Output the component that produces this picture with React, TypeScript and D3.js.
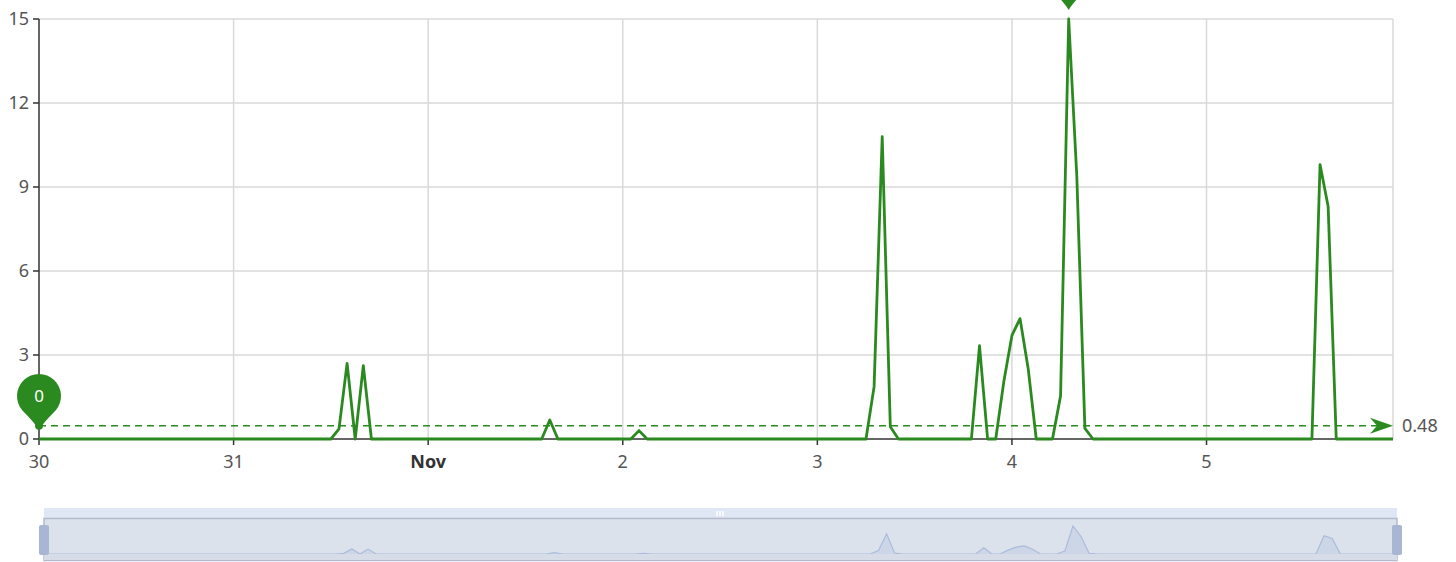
import React, { useEffect, useRef } from 'react';
import * as d3 from 'd3';

// hourly values, one row per day, Oct 30 .. Nov 5
const startDate = Date.UTC(2023, 9, 30, 0);
const day0 = [0, 0, 0, 0, 0, 0, 0, 0, 0, 0, 0, 0, 0, 0, 0, 0, 0, 0, 0, 0, 0, 0, 0, 0];
const day1 = [0, 0, 0, 0, 0, 0, 0, 0, 0, 0, 0, 0, 0, 0.36, 2.7, 0, 2.62, 0, 0, 0, 0, 0, 0, 0];
const day2 = [0, 0, 0, 0, 0, 0, 0, 0, 0, 0, 0, 0, 0, 0, 0, 0.68, 0, 0, 0, 0, 0, 0, 0, 0];
const day3 = [0, 0, 0.3, 0, 0, 0, 0, 0, 0, 0, 0, 0, 0, 0, 0, 0, 0, 0, 0, 0, 0, 0, 0, 0];
const day4 = [0, 0, 0, 0, 0, 0, 0, 1.87, 10.8, 0.44, 0, 0, 0, 0, 0, 0, 0, 0, 0, 0, 3.33, 0, 0, 2.05];
const day5 = [3.7, 4.3, 2.52, 0, 0, 0, 1.54, 15, 9.4, 0.38, 0, 0, 0, 0, 0, 0, 0, 0, 0, 0, 0, 0, 0, 0];
const day6 = [0, 0, 0, 0, 0, 0, 0, 0, 0, 0, 0, 0, 0, 0, 9.8, 8.3, 0, 0, 0, 0, 0, 0, 0, 0];
const yTicks = [0, 3, 6, 9, 12, 15];

const hourly = [...day0, ...day1, ...day2, ...day3, ...day4, ...day5, ...day6];
const data = hourly.map((v, i) => ({ t: new Date(startDate + i * 3600000), v }));

const green = '#2b8a1f';
const font = '"Noto Sans", sans-serif';
const fs = 18;

function pinPath(cx: number, cy: number, r: number) {
    // head circle + tapered tail
    const d = r * 1.55;
    const phi = Math.acos(r / d);
    const tx = r * Math.sin(phi), ty = r * Math.cos(phi);
    return `M${cx - tx},${cy + ty} A${r},${r} 0 1 1 ${cx + tx},${cy + ty} Q${cx + 3},${cy + d - 6} ${cx},${cy + d} Q${cx - 3},${cy + d - 6} ${cx - tx},${cy + ty} Z`;
}

export default function App() {
    const ref = useRef<SVGSVGElement>(null);

    useEffect(() => {
        const svg = d3.select(ref.current);
        svg.selectAll('*').remove();

        const left = 39, right = 1393, top = 19, bottom = 439;
        const x = d3.scaleUtc().domain([data[0].t, data[data.length - 1].t]).range([left, right]);
        const y = d3.scaleLinear().domain([0, 15]).range([bottom, top]);
        const grid = '#d9d9d9';

        // horizontal grid
        svg.append('g').selectAll('line').data(yTicks.filter(t => t > 0)).enter().append('line')
            .attr('x1', left).attr('x2', right)
            .attr('y1', d => y(d)).attr('y2', d => y(d))
            .attr('stroke', grid).attr('stroke-width', 1.5);

        // vertical grid
        const days = d3.utcDay.range(data[0].t, new Date(+data[data.length - 1].t + 1));
        svg.append('g').selectAll('line').data(days.slice(1)).enter().append('line')
            .attr('x1', d => x(d)).attr('x2', d => x(d))
            .attr('y1', top).attr('y2', bottom)
            .attr('stroke', grid).attr('stroke-width', 1.5);
        svg.append('line').attr('x1', right).attr('x2', right).attr('y1', top).attr('y2', bottom)
            .attr('stroke', grid).attr('stroke-width', 1.5);

        // y axis
        svg.append('line').attr('x1', left).attr('x2', left).attr('y1', top).attr('y2', bottom)
            .attr('stroke', '#333').attr('stroke-width', 1.5);
        const yg = svg.append('g').selectAll('g').data(yTicks).enter().append('g');
        yg.append('line').attr('x1', left - 6).attr('x2', left).attr('y1', d => y(d)).attr('y2', d => y(d))
            .attr('stroke', '#333').attr('stroke-width', 1.5);
        yg.append('text').attr('x', left - 10).attr('y', d => y(d) + 6)
            .attr('text-anchor', 'end').attr('font-family', font).attr('font-size', fs).attr('fill', '#555')
            .text(d => d);

        // x axis
        svg.append('line').attr('x1', left).attr('x2', right).attr('y1', bottom).attr('y2', bottom)
            .attr('stroke', '#333').attr('stroke-width', 1.5);
        const xg = svg.append('g').selectAll('g').data(days).enter().append('g');
        xg.append('line').attr('x1', d => x(d)).attr('x2', d => x(d)).attr('y1', bottom).attr('y2', bottom + 6)
            .attr('stroke', '#333').attr('stroke-width', 1.5);
        xg.append('text').attr('x', d => x(d)).attr('y', bottom + 29)
            .attr('text-anchor', 'middle').attr('font-family', font).attr('font-size', fs)
            .attr('fill', d => d.getUTCDate() === 1 ? '#333' : '#555')
            .attr('font-weight', d => d.getUTCDate() === 1 ? 'bold' : 'normal')
            .text(d => d.getUTCDate() === 1 ? d3.utcFormat('%b')(d) : d3.utcFormat('%-d')(d));

        // average mark line
        const avg = d3.mean(hourly) as number;
        const ay = y(avg);
        svg.append('line').attr('x1', left).attr('x2', right - 14).attr('y1', ay).attr('y2', ay)
            .attr('stroke', green).attr('stroke-width', 1.5).attr('stroke-dasharray', '7,5');
        svg.append('path')
            .attr('d', `M${right},${ay} L${right - 23},${ay - 8} L${right - 16},${ay} L${right - 23},${ay + 8} Z`)
            .attr('fill', green);
        svg.append('text').attr('x', right + 9).attr('y', ay + 6)
            .attr('font-family', font).attr('font-size', fs).attr('fill', '#555')
            .text(avg.toFixed(2));

        // series line
        const line = d3.line<{ t: Date; v: number }>().x(d => x(d.t)).y(d => y(d.v));
        svg.append('path').datum(data).attr('d', line)
            .attr('fill', 'none').attr('stroke', green).attr('stroke-width', 2.8).attr('stroke-linejoin', 'round');

        svg.append('circle').attr('cx', left).attr('cy', ay).attr('r', 4).attr('fill', green);

        // min / max pins
        const maxD = data.reduce((a, b) => (b.v > a.v ? b : a));
        const minD = data.reduce((a, b) => (b.v < a.v ? b : a));
        [maxD, minD].forEach(p => {
            const px = x(p.t), py = y(p.v);
            const cy = py - 43;
            svg.append('path').attr('d', pinPath(px, cy, 22)).attr('fill', green);
            // the max pin head sits above the canvas, so its label is not visible
            if (cy > 10) {
                svg.append('text').attr('x', px).attr('y', cy + 6).attr('text-anchor', 'middle')
                    .attr('font-family', font).attr('font-size', 17).attr('fill', '#fff').text(p.v);
            }
        });

        // data zoom slider
        const zl = 44, zr = 1397;
        svg.append('rect').attr('x', zl).attr('y', 508).attr('width', zr - zl).attr('height', 11).attr('fill', '#dfe6f4');
        [-3, 0, 3].forEach(o => {
            svg.append('rect').attr('x', 720 + o - 0.75).attr('y', 511).attr('width', 1.5).attr('height', 5).attr('fill', '#ffffff');
        });
        svg.append('rect').attr('x', zl).attr('y', 518.5).attr('width', zr - zl).attr('height', 42)
            .attr('fill', '#dce2eb').attr('stroke', '#b3bccd').attr('stroke-width', 1.5);
        const sx = d3.scaleUtc().domain(x.domain()).range([zl, zr]);
        const sy = d3.scaleLinear().domain([0, 15]).range([554, 526]);
        const area = d3.area<{ t: Date; v: number }>().x(d => sx(d.t)).y0(554).y1(d => sy(d.v));
        svg.append('path').datum(data).attr('d', area).attr('fill', '#cdd6e6');
        svg.append('path').datum(data).attr('d', line.x(d => sx(d.t)).y(d => sy(d.v)))
            .attr('fill', 'none').attr('stroke', '#aabbdc').attr('stroke-width', 1.2);
        svg.append('rect').attr('x', zl).attr('y', 554).attr('width', zr - zl).attr('height', 6).attr('fill', '#d6dde9');
        [zl, zr].forEach(hx => {
            svg.append('rect').attr('x', hx - 5).attr('y', 525).attr('width', 10).attr('height', 30).attr('rx', 2)
                .attr('fill', '#a8b6d3');
        });
    }, []);

    return (
        <svg ref={ref} width={1456} height={562}
            style={{ position: 'absolute', left: 0, top: 0, background: '#fff' }} />
    );
}
